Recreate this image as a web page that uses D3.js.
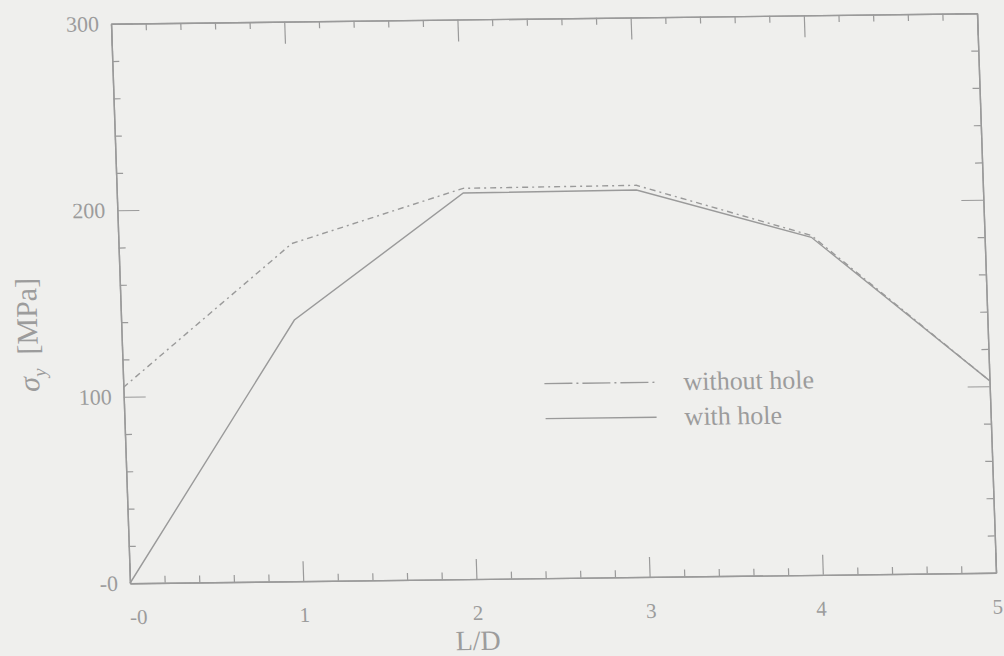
<!DOCTYPE html>
<html>
<head>
<meta charset="utf-8">
<script src="https://cdn.jsdelivr.net/npm/d3@7"></script>
<style>
  html, body { margin: 0; padding: 0; background: #efefed; }
  svg { display: block; }
  text { font-family: "Liberation Serif", "Times New Roman", serif; fill: #9c9c9c; }
</style>
</head>
<body>
<svg id="chart" width="1004" height="656"></svg>
<script>
// L/D ratios along the x axis
const ldValues = [0, 1, 2, 3, 4, 5];
// yield stress sigma_y [MPa]
const withoutHole = [105, 181, 209.5, 210, 182, 103];
const withHole = [0, 140, 207, 207.5, 181, 103];
// series labels for the legend
const seriesNames = ["without hole", "with hole"];
// axis ticks
const xMajorTicks = [0, 1, 2, 3, 4, 5];
const yMajorTicks = [0, 100, 200, 300];

const W = 866, H = 559.5;
const ink = "#9a9a9a";

const svg = d3.select("#chart");
// the plot frame sits slightly sheared on the page
const g = svg.append("g")
  .attr("transform", "matrix(1,-0.01212,0.034,1,111,23.75)");

const x = d3.scaleLinear().domain([0, 5]).range([0, W]);
const y = d3.scaleLinear().domain([0, 300]).range([H, 0]);

const xMinor = d3.range(0, 5.0001, 0.2).filter(v => Math.abs(v - Math.round(v)) > 1e-6);
const yMinor = d3.range(0, 300.001, 20).filter(v => v % 100 !== 0);

const fmt = d => d === 0 ? "-0" : String(d);

function styleAxis(sel) {
  sel.selectAll("path.domain").attr("stroke", ink).attr("stroke-width", 1.4);
  sel.selectAll(".tick line").attr("stroke", ink).attr("stroke-width", 1.2);
  sel.selectAll(".tick text").attr("fill", "#a0a0a0")
    .style("font-family", '"Liberation Serif", serif').style("font-size", "21px");
}

// bottom axis: inward major ticks with labels
g.append("g").attr("transform", `translate(0,${H})`)
  .call(d3.axisBottom(x).tickValues(xMajorTicks).tickSize(-20).tickSizeOuter(0).tickPadding(26).tickFormat(fmt))
  .call(styleAxis)
  .call(a => a.selectAll(".tick text").attr("dx", d => d === 0 ? 7 : (d === 4 ? -3 : 0)));
g.append("g").attr("transform", `translate(0,${H})`)
  .call(d3.axisBottom(x).tickValues(xMinor).tickSize(-7).tickSizeOuter(0).tickFormat(""))
  .call(styleAxis);
// top axis
g.append("g")
  .call(d3.axisTop(x).tickValues(xMajorTicks).tickSize(-22).tickSizeOuter(0).tickFormat(""))
  .call(styleAxis);
g.append("g")
  .call(d3.axisTop(x).tickValues(xMinor).tickSize(-7).tickSizeOuter(0).tickFormat(""))
  .call(styleAxis);
// left axis with labels
g.append("g")
  .call(d3.axisLeft(y).tickValues(yMajorTicks).tickSize(-22).tickSizeOuter(0).tickPadding(12).tickFormat(fmt))
  .call(styleAxis)
  .call(a => a.selectAll(".tick text").style("font-size", "22px"));
g.append("g")
  .call(d3.axisLeft(y).tickValues(yMinor).tickSize(-7).tickSizeOuter(0).tickFormat(""))
  .call(styleAxis);
// right axis
g.append("g").attr("transform", `translate(${W},0)`)
  .call(d3.axisRight(y).tickValues(yMajorTicks).tickSize(-22).tickSizeOuter(0).tickFormat(""))
  .call(styleAxis);
g.append("g").attr("transform", `translate(${W},0)`)
  .call(d3.axisRight(y).tickValues(yMinor).tickSize(-7).tickSizeOuter(0).tickFormat(""))
  .call(styleAxis);

// data lines
const line = d3.line().x((d, i) => x(ldValues[i])).y(d => y(d));
g.append("path").datum(withoutHole)
  .attr("d", line).attr("fill", "none").attr("stroke", ink)
  .attr("stroke-width", 1.4).attr("stroke-dasharray", "6,4,2,4");
g.append("path").datum(withHole)
  .attr("d", line).attr("fill", "none").attr("stroke", ink)
  .attr("stroke-width", 1.4);

// legend
const legend = g.append("g").attr("transform", "translate(421,365)");
const legendDash = ["28,4,2,4", null];
seriesNames.forEach((name, i) => {
  const row = legend.append("g").attr("transform", `translate(0,${i * 35})`);
  row.append("line").attr("x1", 0).attr("x2", 111).attr("y1", 0).attr("y2", 0)
    .attr("stroke", ink).attr("stroke-width", 1.4)
    .attr("stroke-dasharray", legendDash[i]);
  row.append("text").attr("x", 139).attr("y", 8)
    .style("font-size", "26px").text(name);
});

// axis titles
g.append("text").attr("x", 346).attr("y", H + 71)
  .attr("text-anchor", "middle").style("font-size", "28px").text("L/D");

const yt = g.append("text")
  .attr("transform", `translate(-84,310) rotate(-90)`)
  .attr("text-anchor", "middle").style("font-size", "30px");
yt.append("tspan").style("font-style", "italic").text("σ");
yt.append("tspan").attr("dy", 7).style("font-size", "19px").style("font-style", "italic").text("y");
yt.append("tspan").attr("dy", -7).attr("dx", 14).text("[MPa]");
</script>
</body>
</html>
